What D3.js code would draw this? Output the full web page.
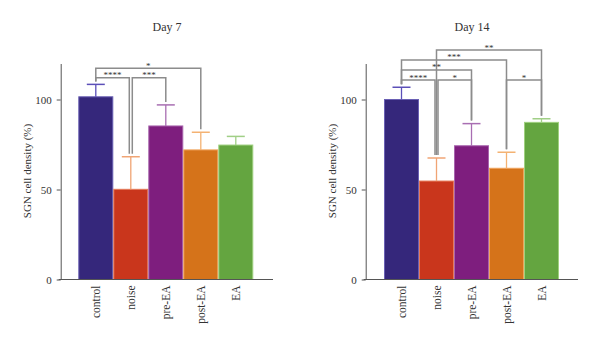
<!DOCTYPE html>
<html lang="en">
<head>
    <meta charset="UTF-8">
    <title>SGN cell density</title>
    <script src="https://cdn.jsdelivr.net/npm/d3@7/dist/d3.min.js"></script>
    <style>
        body { margin: 0; background: #fff; }
        text { font-family: "Liberation Serif", "DejaVu Serif", serif; fill: #333; }
    </style>
</head>
<body>
<svg width="600" height="347" id="svgcontainer"></svg>
<script>
    const categories = ['control', 'noise', 'pre-EA', 'post-EA', 'EA'];
    const yTicks = [0, 50, 100];

    const day7Means = [101.5, 50.1, 85.3, 72.0, 74.7];
    const day7Errors = [6.9, 18.1, 11.7, 9.8, 4.8];
    // [from, to, bracket height in y units, label]
    const day7Brackets = [[0, 3, 117.3, '*'], [0, 1, 112.1, '****'], [1, 2, 112.1, '***']];

    const day14Means = [100.0, 54.7, 74.3, 61.8, 87.3];
    const day14Errors = [6.8, 12.8, 12.3, 8.9, 2.0];
    const day14Brackets = [[1, 4, 127.5, '**'], [0, 3, 122.0, '***'], [0, 2, 116.4, '**'],
        [0, 1, 110.8, '****'], [1, 2, 110.8, '*'], [3, 4, 110.8, '*']];

    const barColors = ['#35277b', '#c9361c', '#7e1e7e', '#d5731a', '#64a540'];
    const edgeColors = ['#6a60b4', '#e57a5a', '#a864ad', '#f0a45c', '#9fd07f'];
    const errColors = ['#5b4fb8', '#f0a474', '#a86eb2', '#f4b272', '#a0cf86'];

    const svg = d3.select('#svgcontainer');

    function drawPanel(opt, means, errors, brackets) {
        const y = d3.scaleLinear().domain([0, 120]).range([279.5, 63.5]);
        const x = d3.scaleBand().domain(categories).range([opt.x0, opt.x0 + 175]).padding(0);
        const g = svg.append('g');

        // bars
        g.selectAll('.bar').data(means).join('rect').attr('class', 'bar')
            .attr('x', (d, i) => x(categories[i]) + 0.5)
            .attr('width', x.bandwidth() - 1)
            .attr('y', d => y(d))
            .attr('height', d => y(0) - y(d))
            .attr('fill', (d, i) => barColors[i])
            .attr('stroke', (d, i) => edgeColors[i]).attr('stroke-width', 1);

        // error bars
        const cx = i => x(categories[i]) + x.bandwidth() / 2;
        means.forEach((m, i) => {
            const c = errColors[i];
            g.append('line').attr('x1', cx(i)).attr('x2', cx(i))
                .attr('y1', y(m)).attr('y2', y(m + errors[i]))
                .attr('stroke', c).attr('stroke-width', 1.3);
            g.append('line').attr('x1', cx(i) - 9).attr('x2', cx(i) + 9)
                .attr('y1', y(m + errors[i])).attr('y2', y(m + errors[i]))
                .attr('stroke', c).attr('stroke-width', 1.5);
        });

        // y axis
        const yAxis = d3.axisLeft(y).tickValues(yTicks).tickSize(4).tickPadding(5).tickSizeOuter(0);
        const ya = g.append('g').attr('transform', `translate(${opt.yAxisX},0)`).call(yAxis);
        ya.select('.domain').attr('stroke', '#555');
        ya.selectAll('.tick line').attr('stroke', '#555');
        ya.selectAll('.tick text').attr('font-size', '11px').attr('font-family', '"Liberation Serif", serif').attr('fill', '#333');

        // x axis
        g.append('line').attr('x1', opt.yAxisX - 2).attr('x2', opt.xEnd)
            .attr('y1', y(0)).attr('y2', y(0)).attr('stroke', '#555').attr('stroke-width', 1);
        g.selectAll('.cat').data(categories).join('text').attr('class', 'cat')
            .attr('transform', d => `translate(${x(d) + x.bandwidth() / 2 + 4},${y(0) + 6}) rotate(-90)`)
            .attr('text-anchor', 'end').attr('font-size', '11.5px').text(d => d);

        // axis title
        g.append('text').attr('transform', `translate(${opt.yAxisX - 30},${171}) rotate(-90)`)
            .attr('text-anchor', 'middle').attr('font-size', '11px').text('SGN cell density (%)');

        // chart title
        g.append('text').attr('x', opt.titleX).attr('y', 31).attr('text-anchor', 'middle')
            .attr('font-size', '12px').text(opt.title);

        // significance brackets
        brackets.forEach(([a, b, h, label]) => {
            const shareEnd = brackets.some(o => o[2] === h && o[0] === b);
            const shareStart = brackets.some(o => o[2] === h && o[1] === a);
            const xa = cx(a) + (shareStart ? 1.5 : 0);
            const xb = cx(b) - (shareEnd ? 1.5 : 0);
            const yl = y(h);
            const path = d3.path();
            path.moveTo(xa, y(means[a] + errors[a]) - 3);
            path.lineTo(xa, yl);
            path.lineTo(xb, yl);
            path.lineTo(xb, y(means[b] + errors[b]) - 3);
            g.append('path').attr('d', path.toString()).attr('fill', 'none')
                .attr('stroke', '#8c8c8c').attr('stroke-width', 1.5);
            g.append('text').attr('x', (xa + xb) / 2).attr('y', yl + 0.5)
                .attr('text-anchor', 'middle').attr('font-size', '9px').attr('fill', '#444')
                .text(label);
        });
    }

    drawPanel({x0: 78.3, yAxisX: 60.7, xEnd: 273, titleX: 167, title: 'Day 7'},
        day7Means, day7Errors, day7Brackets);
    drawPanel({x0: 384, yAxisX: 365.7, xEnd: 578, titleX: 472, title: 'Day 14'},
        day14Means, day14Errors, day14Brackets);
</script>
</body>
</html>
